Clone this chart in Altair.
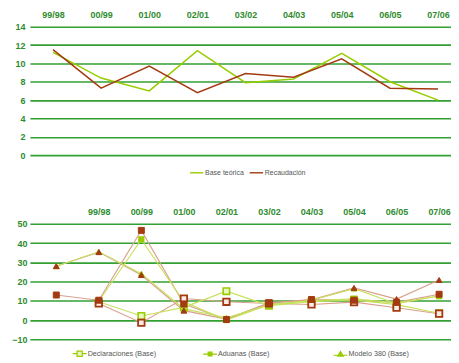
import json
import altair as alt
import pandas as pd

# ---------------- data ----------------
top_periods = ["99/98", "00/99", "01/00", "02/01", "03/02", "04/03", "05/04", "06/05", "07/06"]
base_teorica = [11.2, 8.4, 7.0, 11.4, 7.9, 8.3, 11.1, 8.0, 6.0]
recaudacion = [11.5, 7.3, 9.7, 6.8, 8.9, 8.5, 10.5, 7.3, 7.2]

bot_periods = ["", "99/98", "00/99", "01/00", "02/01", "03/02", "04/03", "05/04", "06/05", "07/06"]
decl_base = [None, 9.5, 2.1, 6.6, 15.0, 7.5, 9.5, 10.5, 8.0, 3.5]
adu_base = [None, 9.8, 41.9, 9.5, 0.0, 8.0, 10.0, 11.0, 9.0, 12.4]
mod_base = [28.0, 35.5, 24.1, 5.8, 1.2, 7.8, 10.3, 16.3, 8.5, 12.6]
decl_rec = [None, 8.6, -1.4, 11.2, 9.5, 8.6, 8.1, 9.3, 6.4, 3.3]
adu_rec = [13.0, 10.3, 46.6, 8.3, 0.3, 9.0, 10.7, 10.3, 9.2, 13.4]
mod_rec = [28.0, 35.3, 23.4, 4.9, 0.5, 8.8, 10.5, 16.7, 10.9, 20.8]

legend_names = ["Declaraciones (Base)", "Aduanas (Base)", "Modelo 380 (Base)"]

# ---------------- styles ----------------
GRID = "#33A033"
LABEL = "#2E8B2E"
LIME = "#99CC00"
BROWN = "#A33A12"
LIME_L = "#C6E25A"
BROWN_L = "#D9A08C"
PALE_G = "#EAF7C0"
FONT = "Liberation Sans"

# ---------------- top chart ----------------
rows = []
for i, p in enumerate(top_periods):
    rows.append({"i": i, "serie": "Base teórica", "v": base_teorica[i]})
    rows.append({"i": i, "serie": "Recaudación", "v": recaudacion[i]})
top_df = pd.DataFrame(rows)

top_x = alt.X(
    "i:Q",
    scale=alt.Scale(domain=[-0.48, 8.27], nice=False, zero=False),
    axis=alt.Axis(
        orient="top", values=list(range(len(top_periods))),
        labelExpr=json.dumps(top_periods) + "[datum.value]",
        grid=False, ticks=False, tickSize=0, domain=False, title=None,
        labelColor=LABEL, labelFontWeight="bold", labelFontSize=9, labelFont=FONT,
        labelPadding=7, minExtent=18, maxExtent=18,
    ),
)
top_y = alt.Y(
    "v:Q",
    scale=alt.Scale(domain=[0, 14], nice=False),
    axis=alt.Axis(
        values=list(range(0, 15, 2)), grid=True, gridColor=GRID, gridWidth=1.6,
        ticks=False, tickSize=0, domain=False, title=None,
        labelColor=LABEL, labelFontWeight="bold", labelFontSize=9, labelFont=FONT,
        labelPadding=5, minExtent=22, maxExtent=22,
    ),
)
top = alt.Chart(top_df).mark_line(strokeWidth=1.5).encode(
    x=top_x,
    y=top_y,
    color=alt.Color(
        "serie:N",
        scale=alt.Scale(domain=["Base teórica", "Recaudación"], range=[LIME, BROWN]),
        legend=alt.Legend(
            orient="none", legendX=160, legendY=139, direction="horizontal",
            title=None, symbolType="stroke", symbolSize=180, symbolStrokeWidth=1.4,
            labelFontSize=7, labelFont=FONT, labelColor="#555555",
            columnPadding=2, labelOffset=1,
        ),
    ),
).properties(width=423, height=129)

# ---------------- bottom chart ----------------
series = [
    ("Declaraciones (Base)", "g", decl_base),
    ("Aduanas (Base)", "g", adu_base),
    ("Modelo 380 (Base)", "g", mod_base),
    ("Declaraciones (Rec)", "b", decl_rec),
    ("Aduanas (Rec)", "b", adu_rec),
    ("Modelo 380 (Rec)", "b", mod_rec),
]
rows = []
for name, grp, vals in series:
    for i, v in enumerate(vals):
        if v is not None:
            rows.append({"i": i, "serie": name, "grp": grp, "v": v})
bot_df = pd.DataFrame(rows)

bot_x = alt.X(
    "i:Q",
    scale=alt.Scale(domain=[-0.62, 9.28], nice=False, zero=False),
    axis=alt.Axis(
        orient="top", values=list(range(len(bot_periods))),
        labelExpr=json.dumps(bot_periods) + "[datum.value]",
        grid=False, ticks=False, tickSize=0, domain=False, title=None,
        labelColor=LABEL, labelFontWeight="bold", labelFontSize=9, labelFont=FONT,
        labelPadding=7, minExtent=18, maxExtent=18,
    ),
)
bot_y = alt.Y(
    "v:Q",
    scale=alt.Scale(domain=[-10, 50], nice=False),
    axis=alt.Axis(
        values=list(range(-10, 51, 10)), grid=True, gridColor=GRID, gridWidth=1.6,
        ticks=False, tickSize=0, domain=False, title=None,
        labelColor=LABEL, labelFontWeight="bold", labelFontSize=9, labelFont=FONT,
        labelPadding=3, minExtent=22, maxExtent=22,
    ),
)

base = alt.Chart(bot_df).encode(x=bot_x, y=bot_y)

lines_b = base.mark_line(color=BROWN_L, strokeWidth=1.1).encode(detail="serie:N").transform_filter("datum.grp == 'b'")
lines_g = base.mark_line(color=LIME_L, strokeWidth=1.1).encode(detail="serie:N").transform_filter("datum.grp == 'g'")

def pts(name, shape, size, fill, stroke, sw):
    return base.mark_point(shape=shape, size=size, fill=fill, stroke=stroke, strokeWidth=sw,
                           filled=False, opacity=1).transform_filter(
        alt.datum.serie == name)

layers = [
    lines_b, lines_g,
    pts("Declaraciones (Base)", "square", 42, PALE_G, LIME, 1.6),
    pts("Aduanas (Base)", "square", 28, LIME, LIME, 1),
    pts("Modelo 380 (Base)", "triangle-up", 32, LIME, LIME, 1),
    pts("Declaraciones (Rec)", "square", 42, "#FBEDE6", BROWN, 1.8),
    pts("Aduanas (Rec)", "square", 36, BROWN, BROWN, 1),
    pts("Modelo 380 (Rec)", "triangle-up", 34, BROWN, BROWN, 1),
]

# legend-only layer (no data drawn, domain fixed)
leg = alt.Legend(
    orient="none", legendX=46, legendY=126, direction="horizontal", columns=3,
    title=None, symbolSize=34, symbolStrokeWidth=1.2,
    labelFontSize=7.2, labelFont=FONT, labelColor="#555555",
    gridAlign="all", columnPadding=44, labelOffset=4,
)
legend_shapes = [
    "M-2.4,0H-0.9M0.9,0H2.4M-0.9,-0.9H0.9V0.9H-0.9Z",
    "M-2.4,0H2.4M-0.65,-0.65H0.65V0.65H-0.65Z",
    "M-2.4,0.45H2.4M0,-0.85L0.95,0.75H-0.95Z",
]
legend_layer = base.mark_point(filled=False, opacity=1).encode(
    shape=alt.Shape("serie:N", scale=alt.Scale(domain=legend_names, range=legend_shapes), legend=leg),
    fill=alt.Fill("serie:N", scale=alt.Scale(domain=legend_names, range=[PALE_G, LIME, LIME]), legend=leg),
    stroke=alt.Stroke("serie:N", scale=alt.Scale(domain=legend_names, range=[LIME, LIME, LIME]), legend=leg),
).transform_filter("datum.v > 1000")

bottom = alt.layer(*layers, legend_layer).properties(width=423, height=116)

chart = alt.concat(top, bottom, columns=1, spacing=30).resolve_scale(
    color="independent", shape="independent", fill="independent", stroke="independent"
).properties(
    padding={"left": 0, "top": 0, "right": 0, "bottom": 0},
    background="white",
).configure_view(stroke=None)

chart.save("out.html", embed_options={"renderer": "svg", "actions": False})
